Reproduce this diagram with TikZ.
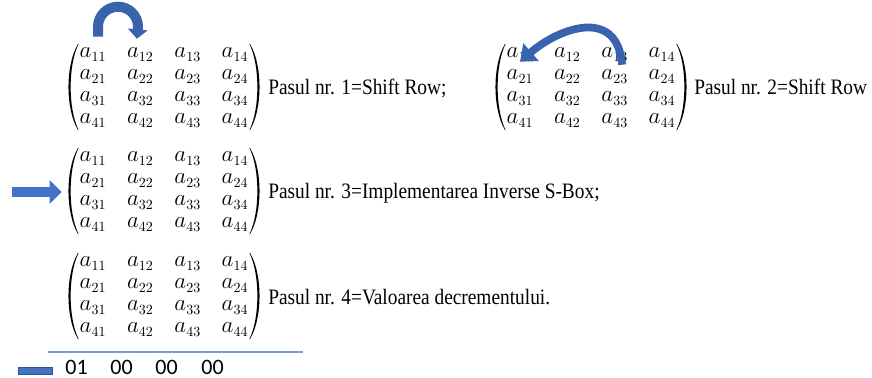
\documentclass[tikz,border=0pt]{standalone}
\usepackage{fontspec}
\newfontfamily\lbfont[FakeStretch=0.88]{Liberation Serif}
\newfontfamily\digfont{Carlito}
\usetikzlibrary{matrix,arrows.meta}
\definecolor{arrblue}{HTML}{4472C4}
\definecolor{arrdark}{HTML}{3A63AE}
\definecolor{edgeblue}{HTML}{2F528F}
\definecolor{linblue}{HTML}{7A9AD8}
\newcommand\aij[1]{a_{\hbox{\fontsize{10.5}{12}\selectfont #1}}}
\tikzset{
  mat/.style={matrix of math nodes, inner sep=0pt, column sep=0pt, row sep=0pt,
    nodes={inner sep=0pt, minimum width=35.5pt, text height=11pt, text depth=5.5pt,
      anchor=center, font=\fontsize{18}{21}\selectfont}},
  lbl/.style={inner sep=0pt, anchor=base west, font=\lbfont\fontsize{16.5}{20}\selectfont},
  dig/.style={inner sep=0pt, anchor=base, font=\digfont\fontsize{16.5}{20}\selectfont},
  arrA/.style={draw=arrdark, line width=7.5pt, -{Triangle[width=14.5pt,length=7pt]}},
  arrB/.style={draw=arrdark, line width=5.8pt, -{Triangle[width=17pt,length=11pt]}},
  arrC/.style={draw=arrblue, line width=7.5pt, -{Triangle[width=17pt,length=9pt]}},
  barbox/.style={draw=edgeblue, line width=0.6pt, fill=arrblue, minimum width=26pt, minimum height=5.5pt, inner sep=0pt},
  lpar/.pic={\fill[black] (-86,-43) .. controls (-98.7,-22) and (-98.7,22) .. (-86,43)
      -- (-85.4,43) .. controls (-96,22) and (-96,-22) .. (-85.4,-43) -- cycle;},
  rpar/.pic={\fill[black] (86,-43) .. controls (98.7,-22) and (98.7,22) .. (86,43)
      -- (85.4,43) .. controls (96,22) and (96,-22) .. (85.4,-43) -- cycle;}
}
\begin{document}
\begin{tikzpicture}[x=0.75pt,y=-0.75pt]
\useasboundingbox (0,0) rectangle (872,378);

% matrices
\matrix (m1) [mat] at (164,87) {
\aij{11} & \aij{12} & \aij{13} & \aij{14}\\
\aij{21} & \aij{22} & \aij{23} & \aij{24}\\
\aij{31} & \aij{32} & \aij{33} & \aij{34}\\
\aij{41} & \aij{42} & \aij{43} & \aij{44}\\
};
\matrix (m2) [mat] at (591,87) {
\aij{11} & \aij{12} & \aij{13} & \aij{14}\\
\aij{21} & \aij{22} & \aij{23} & \aij{24}\\
\aij{31} & \aij{32} & \aij{33} & \aij{34}\\
\aij{41} & \aij{42} & \aij{43} & \aij{44}\\
};
\matrix (m3) [mat] at (164,191) {
\aij{11} & \aij{12} & \aij{13} & \aij{14}\\
\aij{21} & \aij{22} & \aij{23} & \aij{24}\\
\aij{31} & \aij{32} & \aij{33} & \aij{34}\\
\aij{41} & \aij{42} & \aij{43} & \aij{44}\\
};
\matrix (m4) [mat] at (164,296) {
\aij{11} & \aij{12} & \aij{13} & \aij{14}\\
\aij{21} & \aij{22} & \aij{23} & \aij{24}\\
\aij{31} & \aij{32} & \aij{33} & \aij{34}\\
\aij{41} & \aij{42} & \aij{43} & \aij{44}\\
};

% parentheses
\pic at (m1.center) {lpar}; \pic at (m1.center) {rpar};
\pic at (m2.center) {lpar}; \pic at (m2.center) {rpar};
\pic at (m3.center) {lpar}; \pic at (m3.center) {rpar};
\pic at (m4.center) {lpar}; \pic at (m4.center) {rpar};

% labels
\node[lbl] (t1) at (268,95) {Pasul nr. 1=Shift Row;};
\node[lbl] (t2) at (694,95) {Pasul nr. 2=Shift Row};
\node[lbl] (t3) at (268,199) {Pasul nr. 3=Implementarea Inverse S-Box;};
\node[lbl] (t4) at (268,304) {Pasul nr. 4=Valoarea decrementului.};

% arrows
\draw[arrA] ([xshift=3.75pt,yshift=4.5pt]m1-1-1.north) -- ++(0,-10)
  arc[start angle=180,end angle=360,radius=20] -- ([xshift=-2.6pt,yshift=3pt]m1-1-2.north);
\draw[arrB] ([xshift=5.6pt]m2-2-3.north) .. controls +(-5,-59) and +(38,-33) .. ([yshift=2.25pt]m2-2-1.north);
\coordinate (a3s) at (12,192);
\draw[arrC] (a3s) -- ([xshift=-5.5pt,yshift=-0.75pt]m3.west);

% bottom line and values
\coordinate (l1) at (48,352);
\coordinate (l2) at (303,352);
\draw[linblue, line width=1pt] (l1) -- (l2);
\node[barbox] (bar) at (35.5,371) {};
\node[dig] (d1) at (76.5,374) {01};
\node[dig] (d2) at (121.5,374) {00};
\node[dig] (d3) at (166.5,374) {00};
\node[dig] (d4) at (212.5,374) {00};
\end{tikzpicture}
\end{document}
